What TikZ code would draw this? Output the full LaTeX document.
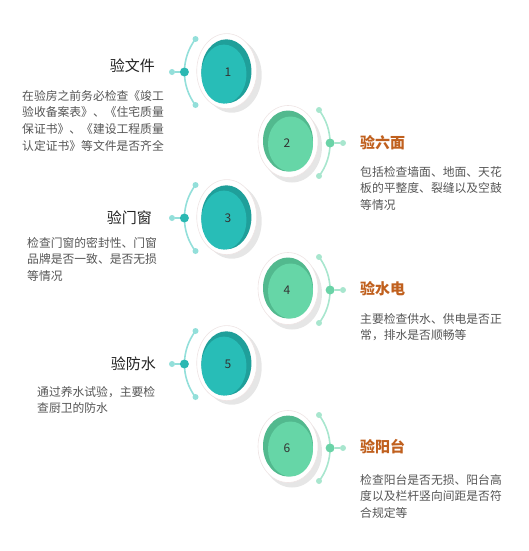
\documentclass[tikz,border=0pt]{standalone}
\usepackage{fontspec}
\setmainfont{Noto Sans CJK SC}
\definecolor{teallight}{HTML}{28BDB7}
\definecolor{tealdark}{HTML}{1F9F9A}
\definecolor{tealline}{HTML}{93DFDA}
\definecolor{tealmid}{HTML}{2AB8B2}
\definecolor{greenlight}{HTML}{66D6A7}
\definecolor{greendark}{HTML}{52B98E}
\definecolor{greenline}{HTML}{A8E6CE}
\definecolor{greenmid}{HTML}{6AD3A7}
\definecolor{ringline}{HTML}{EEE4E4}
\definecolor{shadowcol}{HTML}{E6E6E6}
\definecolor{titleleft}{HTML}{222222}
\definecolor{titleright}{HTML}{C0601E}
\definecolor{desccol}{HTML}{555555}
\tikzset{
  ring/.style={fill=white, draw=ringline, line width=0.6pt},
  num/.style={font=\fontsize{12}{14}\selectfont, text=black!80, inner sep=0},
  tealarc/.style={draw=tealline, line width=1.6pt},
  greenarc/.style={draw=greenline, line width=1.6pt},
  enddot/.style={circle, inner sep=0, minimum size=6pt},
  middot/.style={circle, inner sep=0, minimum size=9pt},
  titlel/.style={font=\fontsize{15}{18}\selectfont, text=titleleft, inner sep=0, anchor=east},
  titler/.style={font=\fontsize{15}{18}\selectfont\bfseries, text=titleright, inner sep=0, anchor=west},
  desc/.style={font=\fontsize{11.8}{16.7}\selectfont, text=desccol, align=left, inner sep=0, anchor=north west}
}
\begin{document}
\begin{tikzpicture}[x=1pt, y=1pt]
\useasboundingbox (0,0) rectangle (529,-551);

% 1
\begin{scope}[shift={(228,-72)}]
\fill[shadowcol] (3.7,-3.2) ellipse [x radius=30, y radius=37.5];
\draw[ring] (-1.3,0.9) ellipse [x radius=30, y radius=37.5];
\fill[tealdark] (-1.6,0.7) ellipse [x radius=25, y radius=32];
\fill[teallight] (-4.1,-2.1) ellipse [x radius=22.5, y radius=29.5];
\node[num] (n1) at (0,0) {1};
\draw[tealarc] (-32.5,33) arc [start angle=143, end angle=217, radius=55];
\node[enddot, fill=tealline] (t1) at (-32.5,33) {};
\node[enddot, fill=tealline] (b1) at (-32.5,-33) {};
\node[enddot, fill=tealline] (e1) at (-56,0) {};
\node[middot, fill=tealmid] (m1) at (-43.6,0) {};
\draw[tealarc] (m1) -- (e1);
\end{scope}
\node[titlel] (h1) at (155,-66) {验文件};
\node[desc] (d1) at (22,-90) {在验房之前务必检查《竣工\\验收备案表》、《住宅质量\\保证书》、《建设工程质量\\认定证书》等文件是否齐全};

% 2
\begin{scope}[shift={(287,-143)}]
\fill[shadowcol] (5,-3.5) ellipse [x radius=30, y radius=36];
\draw[ring] (1,1.5) ellipse [x radius=30, y radius=36];
\fill[greendark] (1,2) ellipse [x radius=25, y radius=30.5];
\fill[greenlight] (3.5,-1) ellipse [x radius=22.5, y radius=27.5];
\node[num] (n2) at (0,0) {2};
\draw[greenarc] (32,33) arc [start angle=37, end angle=-37, radius=55];
\node[enddot, fill=greenline] (t2) at (32,33) {};
\node[enddot, fill=greenline] (b2) at (32,-33) {};
\node[enddot, fill=greenline] (e2) at (56,0) {};
\node[middot, fill=greenmid] (m2) at (43.1,0) {};
\draw[greenarc] (m2) -- (e2);
\end{scope}
\node[titler] (h2) at (360,-143) {验六面};
\node[desc] (d2) at (360,-166) {包括检查墙面、地面、天花\\板的平整度、裂缝以及空鼓\\等情况};

% 3
\begin{scope}[shift={(228,-218)}]
\fill[shadowcol] (3.7,-3.2) ellipse [x radius=30, y radius=37.5];
\draw[ring] (-1.3,0.9) ellipse [x radius=30, y radius=37.5];
\fill[tealdark] (-1.6,0.7) ellipse [x radius=25, y radius=32];
\fill[teallight] (-4.1,-2.1) ellipse [x radius=22.5, y radius=29.5];
\node[num] (n3) at (0,0) {3};
\draw[tealarc] (-32.5,33) arc [start angle=143, end angle=217, radius=55];
\node[enddot, fill=tealline] (t3) at (-32.5,33) {};
\node[enddot, fill=tealline] (b3) at (-32.5,-33) {};
\node[enddot, fill=tealline] (e3) at (-56,0) {};
\node[middot, fill=tealmid] (m3) at (-43.6,0) {};
\draw[tealarc] (m3) -- (e3);
\end{scope}
\node[titlel] (h3) at (152,-218) {验门窗};
\node[desc] (d3) at (27,-237) {检查门窗的密封性、门窗\\品牌是否一致、是否无损\\等情况};

% 4
\begin{scope}[shift={(287,-290)}]
\fill[shadowcol] (5,-3.5) ellipse [x radius=30, y radius=36];
\draw[ring] (1,1.5) ellipse [x radius=30, y radius=36];
\fill[greendark] (1,2) ellipse [x radius=25, y radius=30.5];
\fill[greenlight] (3.5,-1) ellipse [x radius=22.5, y radius=27.5];
\node[num] (n4) at (0,0) {4};
\draw[greenarc] (32,33) arc [start angle=37, end angle=-37, radius=55];
\node[enddot, fill=greenline] (t4) at (32,33) {};
\node[enddot, fill=greenline] (b4) at (32,-33) {};
\node[enddot, fill=greenline] (e4) at (56,0) {};
\node[middot, fill=greenmid] (m4) at (43.1,0) {};
\draw[greenarc] (m4) -- (e4);
\end{scope}
\node[titler] (h4) at (360,-289) {验水电};
\node[desc] (d4) at (360,-313) {主要检查供水、供电是否正\\常，排水是否顺畅等};

% 5
\begin{scope}[shift={(228,-364)}]
\fill[shadowcol] (3.7,-3.2) ellipse [x radius=30, y radius=37.5];
\draw[ring] (-1.3,0.9) ellipse [x radius=30, y radius=37.5];
\fill[tealdark] (-1.6,0.7) ellipse [x radius=25, y radius=32];
\fill[teallight] (-4.1,-2.1) ellipse [x radius=22.5, y radius=29.5];
\node[num] (n5) at (0,0) {5};
\draw[tealarc] (-32.5,33) arc [start angle=143, end angle=217, radius=55];
\node[enddot, fill=tealline] (t5) at (-32.5,33) {};
\node[enddot, fill=tealline] (b5) at (-32.5,-33) {};
\node[enddot, fill=tealline] (e5) at (-56,0) {};
\node[middot, fill=tealmid] (m5) at (-43.6,0) {};
\draw[tealarc] (m5) -- (e5);
\end{scope}
\node[titlel] (h5) at (156,-364) {验防水};
\node[desc] (d5) at (37,-386) {通过养水试验，主要检\\查厨卫的防水};

% 6
\begin{scope}[shift={(287,-448)}]
\fill[shadowcol] (5,-3.5) ellipse [x radius=30, y radius=36];
\draw[ring] (1,1.5) ellipse [x radius=30, y radius=36];
\fill[greendark] (1,2) ellipse [x radius=25, y radius=30.5];
\fill[greenlight] (3.5,-1) ellipse [x radius=22.5, y radius=27.5];
\node[num] (n6) at (0,0) {6};
\draw[greenarc] (32,33) arc [start angle=37, end angle=-37, radius=55];
\node[enddot, fill=greenline] (t6) at (32,33) {};
\node[enddot, fill=greenline] (b6) at (32,-33) {};
\node[enddot, fill=greenline] (e6) at (56,0) {};
\node[middot, fill=greenmid] (m6) at (43.1,0) {};
\draw[greenarc] (m6) -- (e6);
\end{scope}
\node[titler] (h6) at (360,-447) {验阳台};
\node[desc] (d6) at (360,-474) {检查阳台是否无损、阳台高\\度以及栏杆竖向间距是否符\\合规定等};
\end{tikzpicture}
\end{document}
